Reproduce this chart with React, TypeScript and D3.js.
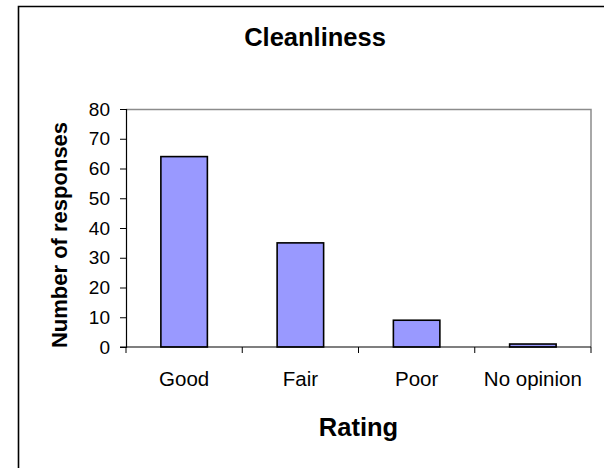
import React, { useEffect, useRef } from 'react'
import * as d3 from 'd3'

const categories = ['Good', 'Fair', 'Poor', 'No opinion']
const responses = [64, 35, 9, 1]
const yTicks = [0, 10, 20, 30, 40, 50, 60, 70, 80]

function BarChart({ width = 604, height = 468 }) {
  const svgRef = useRef<SVGSVGElement>(null)

  useEffect(() => {
    const svg = d3.select(svgRef.current)
    svg.selectAll('*').remove()

    const font = 'Liberation Sans, Arial, sans-serif'
    const margin = { top: 109, right: 13, bottom: 121, left: 126 }
    const innerWidth = width - margin.left - margin.right
    const innerHeight = height - margin.top - margin.bottom

    svg.append('rect').attr('width', width).attr('height', height).attr('fill', '#fff')

    // outer chart frame (only left and top edges fit in the window)
    svg.append('path')
      .attr('d', `M18.5,${height + 2} V6.5 H${width + 2}`)
      .attr('fill', 'none')
      .attr('stroke', '#000')
      .attr('stroke-width', 1.6)

    const x = d3.scaleBand()
      .domain(categories)
      .range([0, innerWidth])
      .paddingInner(0.6)
      .paddingOuter(0.3)

    const y = d3.scaleLinear()
      .domain([0, 80])
      .range([innerHeight, 0])

    const g = svg.append('g')
      .attr('transform', `translate(${margin.left},${margin.top})`)

    // plot area border, grey on top and right
    g.append('path')
      .attr('d', `M0,0.5 H${innerWidth} V${innerHeight}`)
      .attr('fill', 'none')
      .attr('stroke', '#8c8c8c')
      .attr('stroke-width', 1.5)

    // bars
    g.selectAll('.bar')
      .data(responses)
      .enter().append('rect')
      .attr('class', 'bar')
      .attr('x', (d, i) => x(categories[i]))
      .attr('y', d => y(d))
      .attr('width', x.bandwidth())
      .attr('height', d => innerHeight - y(d))
      .attr('fill', '#9999ff')
      .attr('stroke', '#000')
      .attr('stroke-width', 1.6)

    // y axis
    const yAxis = g.append('g')
      .call(d3.axisLeft(y).tickValues(yTicks).tickSize(6).tickPadding(10))
    yAxis.select('.domain').attr('stroke', '#000').attr('stroke-width', 1.2)
    yAxis.selectAll('.tick line').attr('stroke', '#000')
    yAxis.selectAll('.tick text')
      .attr('font-family', font)
      .attr('font-size', 19)
      .attr('fill', '#000')

    // x axis with ticks between categories
    const xAxisG = g.append('g')
      .attr('transform', `translate(0,${innerHeight})`)
    xAxisG.append('line')
      .attr('x1', -6).attr('x2', innerWidth)
      .attr('stroke', '#000').attr('stroke-width', 1.2)
    const boundaries = d3.range(categories.length + 1).map(i => i * innerWidth / categories.length)
    xAxisG.selectAll('.xtick')
      .data(boundaries)
      .enter().append('line')
      .attr('x1', d => d).attr('x2', d => d)
      .attr('y1', 0).attr('y2', 6)
      .attr('stroke', '#000')
    xAxisG.selectAll('.xlabel')
      .data(categories)
      .enter().append('text')
      .attr('x', d => x(d) + x.bandwidth() / 2)
      .attr('y', 39)
      .attr('text-anchor', 'middle')
      .attr('font-family', font)
      .attr('font-size', 20.5)
      .text(d => d)

    // titles
    svg.append('text')
      .attr('x', 315)
      .attr('y', 46)
      .attr('text-anchor', 'middle')
      .attr('font-family', font)
      .attr('font-size', 25.5)
      .attr('font-weight', 'bold')
      .text('Cleanliness')

    svg.append('text')
      .attr('x', margin.left + innerWidth / 2)
      .attr('y', 436)
      .attr('text-anchor', 'middle')
      .attr('font-family', font)
      .attr('font-size', 25.5)
      .attr('font-weight', 'bold')
      .text('Rating')

    svg.append('text')
      .attr('transform', `translate(67,235) rotate(-90)`)
      .attr('text-anchor', 'middle')
      .attr('font-family', font)
      .attr('font-size', 22)
      .attr('font-weight', 'bold')
      .text('Number of responses')
  }, [width, height])

  return (
    <svg
      ref={svgRef}
      width={width}
      height={height}
      style={{ position: 'absolute', left: 0, top: 0, display: 'block' }}
    />
  )
}

export default function App() {
  return <BarChart />
}
